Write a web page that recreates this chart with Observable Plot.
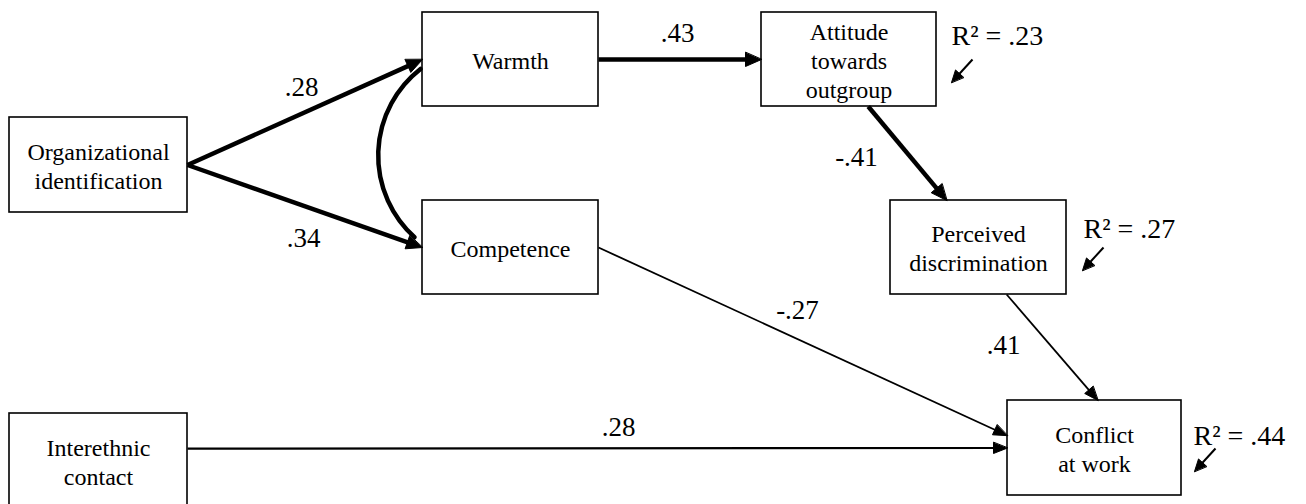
<!DOCTYPE html>
<html><head><meta charset="utf-8">
<script src="https://cdn.jsdelivr.net/npm/d3@7"></script>
<script src="https://cdn.jsdelivr.net/npm/@observablehq/plot@0.6"></script>
<style>html,body{margin:0;padding:0;background:#fff}</style>
</head><body><div id="chart"></div>
<script>
// ---------- data ----------
const nodeIds    = ["org", "warmth", "competence", "attitude", "perceived", "conflict", "contact"];
const nodeLabels = ["Organizational\nidentification", "Warmth", "Competence", "Attitude\ntowards\noutgroup",
                    "Perceived\ndiscrimination", "Conflict\nat work", "Interethnic\ncontact"];
const pathFrom   = ["org", "org", "warmth", "attitude", "competence", "perceived", "contact"];
const pathTo     = ["warmth", "competence", "attitude", "perceived", "conflict", "conflict", "conflict"];
const pathCoefs  = [".28", ".34", ".43", "-.41", "-.27", ".41", ".28"];
const r2Nodes    = ["attitude", "perceived", "conflict"];
const r2Values   = [".23", ".27", ".44"];
const correlated = ["warmth", "competence"];

// ---------- layout (positions & styles) ----------
const W = 1306, H = 504;
const boxes = {
  org: [9, 187, 117, 212], warmth: [422, 598, 12, 106], competence: [422, 598, 200, 294],
  attitude: [761, 936, 12, 106], perceived: [890, 1066, 200, 294], conflict: [1007, 1181, 400, 495],
  contact: [9, 187, 413, 508]
};
// anchors: [side, fraction] for path start / end
const pathStart = [["r", .5], ["r", .5], ["r", .5], ["b", .61], ["r", .5], ["b", .66], ["r", .37]];
const pathEnd   = [["l", .5], ["l", .5], ["l", .5], ["t", .32], ["l", .37], ["t", .52], ["l", .5]];
const pathWidth = [4.5, 4.5, 4.5, 4.5, 1.8, 1.8, 2.2];
const coefPos   = [[301, 87], [303, 238], [677, 33], [856, 157], [797, 310], [1003, 345], [618, 427]];
const r2Pos     = [[951, 36], [1083, 229], [1193, 436]];
const r2Arrow   = [[[972, 59], [951, 82]], [[1103, 247], [1082, 270]], [[1215, 448], [1194, 471]]];

function anchor(id, [side, f]) {
  const [x1, x2, y1, y2] = boxes[id];
  if (side === "r") return [x2, y1 + f * (y2 - y1)];
  if (side === "l") return [x1, y1 + f * (y2 - y1)];
  if (side === "t") return [x1 + f * (x2 - x1), y1];
  return [x1 + f * (x2 - x1), y2];
}

const nodes = nodeIds.map((id, i) => {
  const [x1, x2, y1, y2] = boxes[id];
  return {id, label: nodeLabels[i], x1, x2, y1, y2, cx: (x1 + x2) / 2, cy: (y1 + y2) / 2};
});

// arrows (shaft + filled head)
const shafts = [], heads = [];
function addArrow(key, a, b, sw, L, Wd) {
  const dx = b[0] - a[0], dy = b[1] - a[1], len = Math.hypot(dx, dy);
  const ux = dx / len, uy = dy / len, nx = -uy, ny = ux;
  const bx = b[0] - ux * L, by = b[1] - uy * L;
  shafts.push({x1: a[0], y1: a[1], x2: b[0] - ux * L * 0.7, y2: b[1] - uy * L * 0.7, sw});
  heads.push({k: key, x: b[0], y: b[1]}, {k: key, x: bx + nx * Wd / 2, y: by + ny * Wd / 2},
             {k: key, x: bx - nx * Wd / 2, y: by - ny * Wd / 2});
}
pathFrom.forEach((f, i) => {
  const thick = pathWidth[i] > 3;
  addArrow("p" + i, anchor(f, pathStart[i]), anchor(pathTo[i], pathEnd[i]), pathWidth[i], thick ? 16 : 14, thick ? 14 : 11);
});
r2Arrow.forEach(([a, b], i) => addArrow("r" + i, a, b, 2, 12, 11));

const coefs = pathCoefs.map((t, i) => ({t, x: coefPos[i][0], y: coefPos[i][1]}));
const r2 = r2Values.map((v, i) => ({node: r2Nodes[i], t: "R\u00B2 = " + v, x: r2Pos[i][0], y: r2Pos[i][1]}));

const cs = anchor(correlated[0], ["l", .6]), ce = anchor(correlated[1], ["l", .39]);
const curve = [{x1: cs[0] - 2, y1: cs[1], x2: ce[0] - 8, y2: ce[1]}];

const font = "'Times New Roman', 'Liberation Serif', serif";
const chart = Plot.plot({
  width: W, height: H, margin: 0,
  x: {domain: [0, W], range: [0, W], axis: null},
  y: {domain: [0, H], range: [0, H], axis: null},
  style: {fontFamily: font, background: "#fff"},
  marks: [
    Plot.rect(nodes, {x1: "x1", x2: "x2", y1: "y1", y2: "y2", fill: "white", stroke: "#000", strokeWidth: 1.6}),
    Plot.text(nodes, {x: "cx", y: "cy", text: "label", fontSize: 24, lineHeight: 1.2, fill: "#000", fontFamily: font}),
    Plot.arrow(curve, {x1: "x1", y1: "y1", x2: "x2", y2: "y2", bend: -50, headLength: 0, strokeWidth: 4.5, stroke: "#000"}),
    Plot.link(shafts, {x1: "x1", y1: "y1", x2: "x2", y2: "y2", strokeWidth: "sw", stroke: "#000", strokeLinecap: "butt"}),
    Plot.line(heads, {x: "x", y: "y", z: "k", fill: "#000", stroke: "#000", strokeWidth: 1, curve: "linear-closed"}),
    Plot.text(coefs, {x: "x", y: "y", text: "t", fontSize: 27, fill: "#000", fontFamily: font}),
    Plot.text(r2, {x: "x", y: "y", text: "t", fontSize: 28, textAnchor: "start", fill: "#000", fontFamily: font})
  ]
});
document.getElementById("chart").appendChild(chart);
</script>
</body></html>
